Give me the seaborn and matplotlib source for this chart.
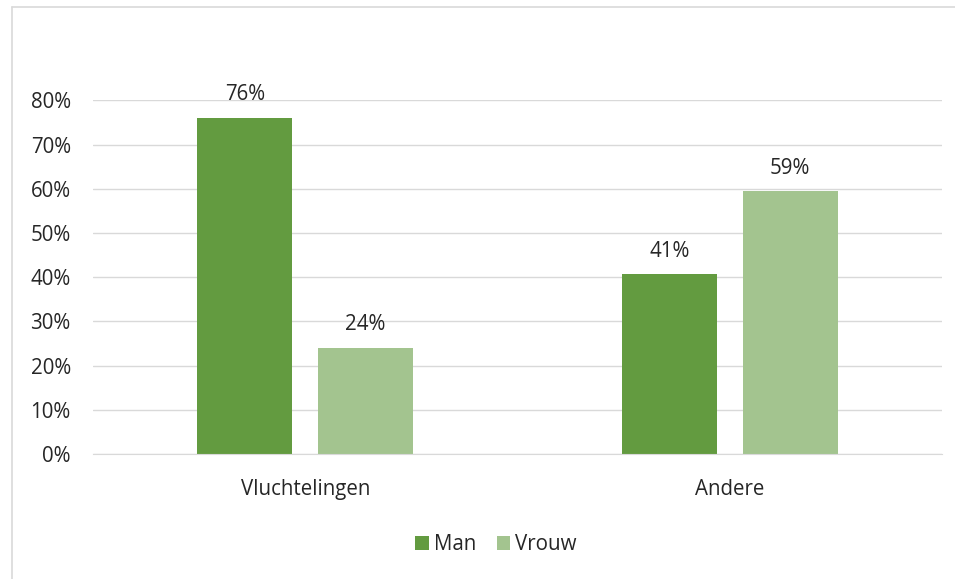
import matplotlib
matplotlib.use("Agg")
import matplotlib.pyplot as plt
import seaborn as sns
import pandas as pd
from matplotlib.patches import Patch
from matplotlib.lines import Line2D

categories = ["Vluchtelingen", "Andere"]
series = ["Man", "Vrouw"]
man_values = [0.76, 0.406]
vrouw_values = [0.24, 0.594]
labels_man = ["76%", "41%"]
labels_vrouw = ["24%", "59%"]
yticks = [0, 0.1, 0.2, 0.3, 0.4, 0.5, 0.6, 0.7, 0.8]
ytick_labels = ["0%", "10%", "20%", "30%", "40%", "50%", "60%", "70%", "80%"]
colors = ["#639B40", "#A3C48F"]

df = pd.DataFrame({
    "cat": categories * 2,
    "series": [series[0]] * 2 + [series[1]] * 2,
    "value": man_values + vrouw_values,
    "label": labels_man + labels_vrouw,
})

sns.set_style("white")
plt.rcParams["font.family"] = ["Open Sans", "DejaVu Sans"]
FS = 14.8

W, H = 955, 579
fig = plt.figure(figsize=(W / 100, H / 100), dpi=100)
ax = fig.add_axes([93 / W, 1 - 454 / H, (942 - 93) / W, (454 - 100.3) / H])

sns.barplot(data=df, x="cat", y="value", hue="series", palette=colors,
            order=categories, hue_order=series, width=0.569, gap=0.215,
            saturation=1, linewidth=0, ax=ax, legend=False)

ax.set_xlim(-0.5, 1.5)
ax.set_ylim(0, 0.8)
ax.set_yticks(yticks)
ax.set_yticklabels(ytick_labels)
ax.yaxis.grid(True, color="#D9D9D9", linewidth=1)
ax.set_axisbelow(True)
for s in ["left", "right", "top"]:
    ax.spines[s].set_visible(False)
ax.spines["bottom"].set_color("#D9D9D9")
ax.tick_params(axis="both", length=0, labelsize=FS, colors="#262626")
ax.tick_params(axis="y", pad=16)
ax.tick_params(axis="x", pad=18)
ax.set_xlabel("")
ax.set_ylabel("")

for cont, labs in zip(ax.containers, [labels_man, labels_vrouw]):
    ax.bar_label(cont, labels=labs, padding=9, fontsize=FS, color="#262626", clip_on=False)

handles = [Patch(facecolor=c, edgecolor="none") for c in colors]
fig.legend(handles, series, loc="center", bbox_to_anchor=(496 / W, 1 - 545 / H),
           ncol=2, frameon=False, fontsize=FS, handlelength=0.65, handleheight=0.65,
           handletextpad=0.25, columnspacing=1.0)

# outer chart border
fig.add_artist(Line2D([12 / W, 12 / W], [0, 1 - 7 / H], color="#D9D9D9", linewidth=1.2, transform=fig.transFigure))
fig.add_artist(Line2D([12 / W, 1], [1 - 7 / H, 1 - 7 / H], color="#D9D9D9", linewidth=1.2, transform=fig.transFigure))

fig.savefig("out.png", dpi=100)
